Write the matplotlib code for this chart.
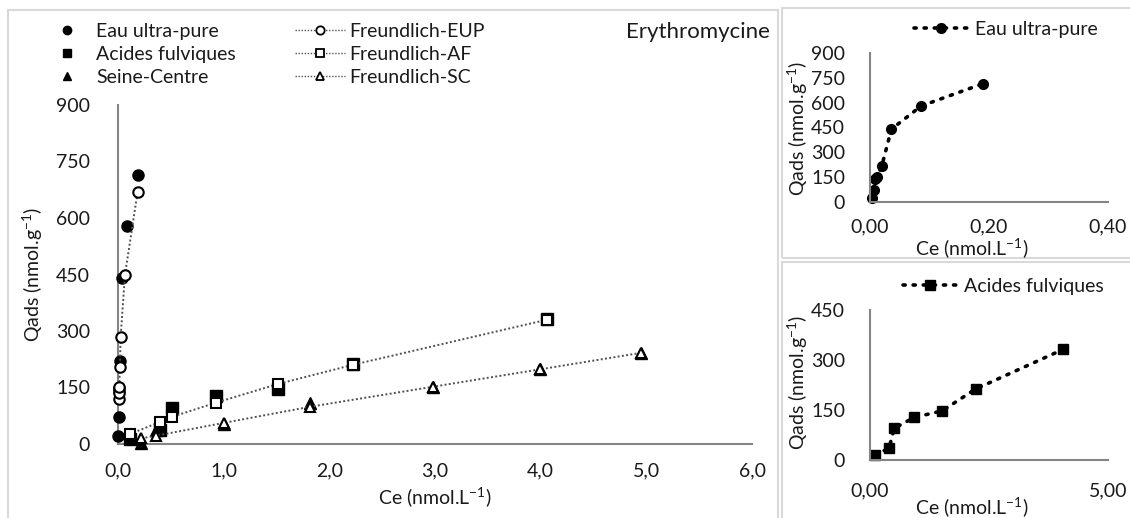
import matplotlib
matplotlib.use("Agg")
import matplotlib.pyplot as plt
from matplotlib.patches import Rectangle
from matplotlib.lines import Line2D

plt.rcParams['font.family'] = ['Lato', 'DejaVu Sans']
plt.rcParams['mathtext.default'] = 'regular'

# ---------------- data ----------------
eup_ce = [0.003, 0.006, 0.008, 0.012, 0.020, 0.036, 0.086, 0.19]
eup_q = [22, 72, 140, 150, 220, 440, 580, 715]
eup_fit_ce = [0.006, 0.008, 0.012, 0.018, 0.025, 0.066, 0.186]
eup_fit_q = [119, 135, 152, 205, 285, 449, 670]

af_ce = [0.11, 0.40, 0.51, 0.93, 1.51, 2.22, 4.06]
af_q = [14, 36, 95, 128, 147, 213, 332]
af_fit_q = [26, 59, 72, 110, 159, 210, 330]

sc_ce = [0.22, 0.36, 1.00, 1.82, 2.98, 3.99, 4.95]
sc_q = [3, 37, 52, 110, 152, 198, 242]
sc_fit_q = [15, 22, 56, 99, 152, 198, 242]

main_xticks = [0, 1, 2, 3, 4, 5, 6]
main_xticklabels = ['0,0', '1,0', '2,0', '3,0', '4,0', '5,0', '6,0']
main_yticks = [0, 150, 300, 450, 600, 750, 900]
inset1_xticks = [0, 0.2, 0.4]
inset1_xticklabels = ['0,00', '0,20', '0,40']
inset2_xticks = [0, 5]
inset2_xticklabels = ['0,00', '5,00']
inset2_yticks = [0, 150, 300, 450]

W, H = 1130, 518
fig = plt.figure(figsize=(W / 100, H / 100), dpi=100)
fig.patch.set_facecolor('white')

def px_axes(x0, y_bottom, x1, y_top):
    return fig.add_axes([x0 / W, 1 - y_bottom / H, (x1 - x0) / W, (y_bottom - y_top) / H])

def frame(x0, y0, x1, y1):
    fig.patches.append(Rectangle((x0 / W, 1 - y1 / H), (x1 - x0) / W, (y1 - y0) / H,
                                 transform=fig.transFigure, fill=False,
                                 edgecolor='#d9d9d9', lw=1.5))

frame(8, 10, 778, 530)
frame(782, 8, 1140, 258)
frame(782, 262, 1140, 530)

TXT = '#1a1a1a'
SP = '#858585'
FS = 14

def style(ax):
    for s in ['top', 'right']:
        ax.spines[s].set_visible(False)
    for s in ['left', 'bottom']:
        ax.spines[s].set_color(SP)
        ax.spines[s].set_linewidth(1.5)
    ax.tick_params(length=0, labelsize=FS, colors=TXT)
    ax.set_facecolor('none')

# ---------------- main axes ----------------
ax = px_axes(118, 444, 752, 105)
style(ax)
ax.tick_params(axis='y', pad=20)
ax.tick_params(axis='x', pad=13)
ax.set_xlim(0, 6)
ax.set_ylim(0, 900)
ax.set_xticks(main_xticks)
ax.set_xticklabels(main_xticklabels)
ax.set_yticks(main_yticks)
for lab in ax.get_xticklabels() + ax.get_yticklabels():
    lab.set_clip_on(False)

fit_ls = (0, (1, 1.2))
fit_col = '#505050'
mk = dict(markersize=8, clip_on=False, zorder=4)
ax.plot(eup_ce, eup_q, 'o', color='black', linestyle='none', **mk)
ax.plot(af_ce, af_q, 's', color='black', linestyle='none', **mk)
ax.plot(sc_ce, sc_q, '^', color='black', linestyle='none', **mk)
fk = dict(color=fit_col, linestyle=fit_ls, lw=1.4, mfc='white', mec='black', mew=1.5,
          markersize=7.5, clip_on=False, zorder=5)
ax.plot(eup_fit_ce, eup_fit_q, marker='o', **fk)
ax.plot(af_ce, af_fit_q, marker='s', **fk)
ax.plot(sc_ce, sc_fit_q, marker='^', **fk)

fig.text(435 / W, 1 - 497 / H, 'Ce (nmol.L$^{-1}$)', ha='center', va='center', fontsize=FS, color=TXT)
fig.text(33 / W, 1 - 274 / H, 'Qads (nmol.g$^{-1}$)', ha='center', va='center', rotation=90,
         fontsize=FS, color=TXT)
fig.text(770 / W, 1 - 32 / H, 'Erythromycine', ha='right', va='center', fontsize=16, color=TXT)

leg_kw = dict(frameon=False, fontsize=FS, borderpad=0, labelspacing=0.32,
              handletextpad=0.2, handlelength=2.6, loc='upper left',
              bbox_transform=fig.transFigure, labelcolor=TXT)
leg1 = ax.legend([Line2D([], [], marker='o', color='black', linestyle='none', markersize=6),
                  Line2D([], [], marker='s', color='black', linestyle='none', markersize=6),
                  Line2D([], [], marker='^', color='black', linestyle='none', markersize=6)],
                 ['Eau ultra-pure', 'Acides fulviques', 'Seine-Centre'],
                 bbox_to_anchor=(32 / W, 1 - 13 / H), **leg_kw)
ax.add_artist(leg1)
mk_leg = dict(color=fit_col, linestyle=fit_ls, lw=1.0, mfc='white', mec='black', mew=1.3, markersize=6)
ax.legend([Line2D([], [], marker='o', **mk_leg),
           Line2D([], [], marker='s', **mk_leg),
           Line2D([], [], marker='^', **mk_leg)],
          ['Freundlich-EUP', 'Freundlich-AF', 'Freundlich-SC'],
          bbox_to_anchor=(285 / W, 1 - 13 / H), **leg_kw)

# ---------------- inset 1 ----------------
ins_ls = (0, (0.6, 2.2))
a1 = px_axes(870, 202, 1108, 53)
style(a1)
a1.set_xlim(0, 0.4)
a1.set_ylim(0, 900)
a1.set_xticks(inset1_xticks)
a1.set_xticklabels(inset1_xticklabels)
a1.set_yticks(main_yticks)
a1.tick_params(axis='y', pad=18)
a1.tick_params(axis='x', pad=12)
for lab in a1.get_xticklabels() + a1.get_yticklabels():
    lab.set_clip_on(False)
a1.plot(eup_ce, eup_q, marker='o', color='black', linestyle=ins_ls, lw=2.6,
        dash_capstyle='round', markersize=7, clip_on=False, label='Eau ultra-pure')
a1.legend(frameon=False, fontsize=FS, borderpad=0, handlelength=2.8, handletextpad=0.3,
          loc='upper right', bbox_to_anchor=(1107 / W, 1 - 11 / H),
          bbox_transform=fig.transFigure, labelcolor=TXT)
fig.text(972 / W, 1 - 248 / H, 'Ce (nmol.L$^{-1}$)', ha='center', va='center', fontsize=FS, color=TXT)
fig.text(798 / W, 1 - 128 / H, 'Qads (nmol.g$^{-1}$)', ha='center', va='center', rotation=90,
         fontsize=FS, color=TXT)

# ---------------- inset 2 ----------------
a2 = px_axes(870, 460, 1108, 310)
style(a2)
a2.set_xlim(0, 5)
a2.set_ylim(0, 450)
a2.set_xticks(inset2_xticks)
a2.set_xticklabels(inset2_xticklabels)
a2.set_yticks(inset2_yticks)
a2.tick_params(axis='y', pad=18)
a2.tick_params(axis='x', pad=16)
for lab in a2.get_xticklabels() + a2.get_yticklabels():
    lab.set_clip_on(False)
a2.plot(af_ce, af_q, marker='s', color='black', linestyle=ins_ls, lw=2.6,
        dash_capstyle='round', markersize=7, clip_on=False, label='Acides fulviques')
a2.legend(frameon=False, fontsize=FS, borderpad=0, handlelength=2.8, handletextpad=0.3,
          loc='upper right', bbox_to_anchor=(1113 / W, 1 - 268 / H),
          bbox_transform=fig.transFigure, labelcolor=TXT)
fig.text(972 / W, 1 - 507 / H, 'Ce (nmol.L$^{-1}$)', ha='center', va='center', fontsize=FS, color=TXT)
fig.text(798 / W, 1 - 382 / H, 'Qads (nmol.g$^{-1}$)', ha='center', va='center', rotation=90,
         fontsize=FS, color=TXT)

fig.savefig('out.png', dpi=100, facecolor='white')
